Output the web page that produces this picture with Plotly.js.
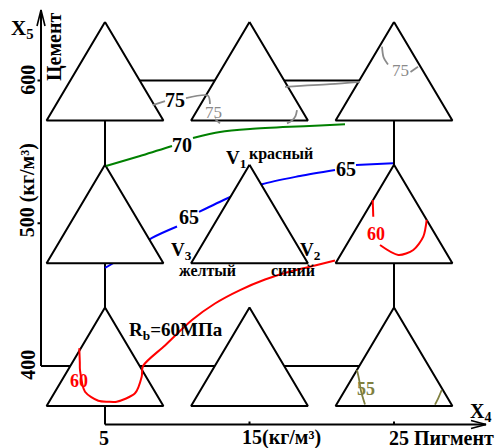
<!DOCTYPE html>
<html><head><meta charset="utf-8">
<script src="https://cdn.plot.ly/plotly-3.0.1.min.js"></script>
<style>html,body{margin:0;padding:0;background:#fff;}#chart{width:499px;height:448px;}</style>
</head><body><div id="chart"></div>
<script>
// ---- Factor levels (design points) ----
const pigmentLevels = [5, 15, 25];      // X4, pigment, kg/m3
const cementLevels  = [400, 500, 600];  // X5, cement, kg/m3

// ---- Iso-strength lines R_b (MPa), coordinates in (pigment, cement) ----
const iso75aX = [8.301, 9.152, null, 10.606, 12.128, 12.266, null, 12.612, 12.958];
const iso75aY = [582.8, 585.6, null, 587.7, 589.4, 583.5, null, 573.0, 570.0];
const iso75bX = [17.595, 17.941, 18.183, 18.287];
const iso75bY = [570.0, 572.0, 575.1, 579.3];
const iso75cX = [17.457, 20.571, 22.647];
const iso75cY = [595.6, 597.4, 599.1];
const iso75dX = [24.170, 24.273, 24.585, null, 26.142, 26.661];
const iso75dY = [623.7, 616.5, 611.2, null, 606.0, 609.7];

const iso70X = [5.069, 7.422, 9.637, null, 11.090, 12.958, 15.035, 17.803, 19.879, 21.609];
const iso70Y = [540.1, 547.1, 554.1, null, 559.7, 563.9, 566.0, 567.6, 568.5, 569.3];

const iso65X = [5.000, 5.761, 8.253, 9.983, null, 11.505, 13.512, 15.865, 18.495, 20.917, null, 22.370, 24.931];
const iso65Y = [468.7, 473.2, 489.7, 497.7, null, 507.9, 517.7, 527.3, 533.1, 537.3, null, 540.8, 542.0];

const iso60aX = [3.221, 3.256, 3.270, 3.616, 4.536, 5.208, 5.810, 7.076, 7.540, 7.630, 9.152, 11.021, 12.612, 14.343, 16.073, 17.803, 19.533, 20.917];
const iso60aY = [412.4, 402.8, 397.2, 382.0, 375.7, 375.0, 375.0, 380.9, 392.5, 400.0, 414.4, 432.2, 443.8, 453.2, 460.6, 466.2, 470.4, 473.9];
const iso60bX = [23.526, 23.567, null, 24.031, 25.298, 26.336, 27.028, 27.263];
const iso60bY = [516.3, 504.6, null, 484.8, 477.8, 481.3, 490.6, 502.3];

const iso55aX = [22.439, 22.578, 22.716, 22.993];
const iso55aY = [397.2, 390.9, 382.5, 373.0];
const iso55bX = [28.301, 28.080, 27.837];
const iso55bY = [383.2, 377.9, 373.0];

// ---- Contour labels ----
const isoLabelText = ['75', '75', '75', '70', '65', '65', '60', '60', '55'];
const isoLabelX = [9.844, 12.509, 25.415, 10.329, 10.779, 21.644, 3.201, 23.720, 23.062];
const isoLabelY = [586.0, 577.6, 606.7, 554.5, 504.4, 538.0, 389.5, 492.5, 383.9];

// ---- Tick labels ----
const pigmentTickText = ['5', '15(кг/м³)', '25 Пигмент'];
const cementTickText = ['400', '500 (кг/м³)', '600'];

// ---- Scale setup (pixels per unit) ----
const PX = 14.45, PY = 1.4275;
const xRange = [5 - 105 / PX, 5 + 394 / PX];
const yRange = [600 - 367.5 / PY, 600 + 80.5 / PY];
const FONT = '"Liberation Serif", "Times New Roman", serif';

const traces = [];
function addLine(x, y, color, width, shape) {
  traces.push({type: 'scatter', mode: 'lines', x: x, y: y, connectgaps: false,
    line: {color: color, width: width, shape: shape || 'linear', smoothing: 0.8},
    hoverinfo: 'skip', showlegend: false});
}

// axes and frame
const xYaxis = 5 - 64 / PX, yTop = 600 + 70.5 / PY;
const yXaxis = 600 - 344 / PY, xEnd = 5 + 381 / PX;
const pMin = Math.min(...pigmentLevels), pMax = Math.max(...pigmentLevels);
const cMin = Math.min(...cementLevels), cMax = Math.max(...cementLevels);
addLine([xYaxis, xYaxis], [cMin, yTop], '#000', 2);
addLine([xYaxis - 4 / PX, xYaxis, xYaxis + 4 / PX], [yTop - 16 / PY, yTop, yTop - 16 / PY], '#000', 1.6);
cementLevels.slice(1).forEach(c => addLine([xYaxis - 3.5 / PX, xYaxis], [c, c], '#000', 2));
addLine([xYaxis, pMax], [cMin, cMin], '#000', 2);
addLine([pMin, pMax], [cMax, cMax], '#000', 2);
addLine([pMin, pMin], [cMax, yXaxis], '#000', 2);
addLine([pMax, pMax], [cMax, cMin], '#000', 2);
addLine([pMin, xEnd], [yXaxis, yXaxis], '#000', 2);
addLine([xEnd - 15 / PX, xEnd, xEnd - 15 / PX], [yXaxis + 4 / PY, yXaxis, yXaxis - 4 / PY], '#000', 1.6);
pigmentLevels.slice(1).forEach(p => addLine([p, p], [yXaxis, yXaxis + 3 / PY], '#000', 2));

// blue line lies beneath the triangles
addLine(iso65X, iso65Y, '#0000ff', 2, 'spline');

// simplex triangles at each design point
const HW = 58.4 / PX, UP = 58.6 / PY, DOWN = 39.9 / PY;
pigmentLevels.forEach(p => cementLevels.forEach(c => {
  traces.push({type: 'scatter', mode: 'lines', fill: 'toself', fillcolor: '#ffffff',
    x: [p, p + HW, p - HW, p], y: [c + UP, c - DOWN, c - DOWN, c + UP],
    line: {color: '#000', width: 2}, hoverinfo: 'skip', showlegend: false});
}));

const GRAY = '#8a8a8a', GREEN = '#008000', RED = '#ff0000', OLIVE = '#808040';
addLine(iso75aX, iso75aY, GRAY, 1.8, 'spline');
addLine(iso75bX, iso75bY, GRAY, 1.8, 'spline');
addLine(iso75cX, iso75cY, GRAY, 1.8, 'spline');
addLine(iso75dX, iso75dY, GRAY, 1.8, 'spline');
addLine(iso70X, iso70Y, GREEN, 2, 'spline');
addLine(iso60aX, iso60aY, RED, 2, 'spline');
addLine(iso60bX, iso60bY, RED, 2, 'spline');
addLine(iso55aX, iso55aY, OLIVE, 1.8, 'spline');
addLine(iso55bX, iso55bY, OLIVE, 1.8, 'spline');

// ---- Annotations ----
const annotations = [];
function ann(x, y, text, size, color, weight, angle) {
  annotations.push({x: x, y: y, xref: 'x', yref: 'y', text: text, showarrow: false,
    xanchor: 'center', yanchor: 'middle', textangle: angle || 0,
    font: {family: FONT, size: size, color: color, weight: weight || 'bold'}});
}
const labelStyle = [
  [20, '#000', 'bold'], [17, GRAY, 'normal'], [17, GRAY, 'normal'],
  [20, '#000', 'bold'], [20, '#000', 'bold'], [20, '#000', 'bold'],
  [18, RED, 'bold'], [18, RED, 'bold'], [18, OLIVE, 'bold']];
isoLabelText.forEach((t, i) => ann(isoLabelX[i], isoLabelY[i], t, labelStyle[i][0], labelStyle[i][1], labelStyle[i][2]));

ann(9.879, 424.2, 'R<sub>b</sub>=60МПа', 19, '#000');
// vertex labels of the central simplex
ann(14.065, 545.0, 'V<sub>1</sub>', 19, '#000');
ann(17.180, 548.6, 'красный', 16, '#000');
ann(10.294, 480.6, 'V<sub>3</sub>', 19, '#000');
ann(12.093, 466.6, 'желтый', 16, '#000');
ann(19.222, 480.6, 'V<sub>2</sub>', 19, '#000');
ann(18.031, 466.8, 'синий', 16, '#000');

// axis titles and tick labels
ann(-0.744, 636.1, 'X<sub>5</sub>', 21, '#000');
ann(1.540, 623.5, 'Цемент', 20, '#000', 'bold', -90);
const cementTickPos = [400.7, 522.9, 600.35];
cementTickText.forEach((t, i) => ann(-0.35, cementTickPos[i], t, 20, '#000', 'bold', -90));
const pigmentTickPos = [4.965, 17.18, 28.253];
pigmentTickText.forEach((t, i) => ann(pigmentTickPos[i], 349.6, t, 20, '#000'));
ann(30.952, 367.1, 'X<sub>4</sub>', 20, '#000');

const layout = {
  width: 499, height: 448, margin: {l: 0, r: 0, t: 0, b: 0, pad: 0},
  paper_bgcolor: '#fff', plot_bgcolor: '#fff', showlegend: false,
  xaxis: {range: xRange, visible: false, fixedrange: true},
  yaxis: {range: yRange, visible: false, fixedrange: true},
  annotations: annotations
};
Plotly.newPlot('chart', traces, layout, {displayModeBar: false, staticPlot: true});
</script>
</body></html>
